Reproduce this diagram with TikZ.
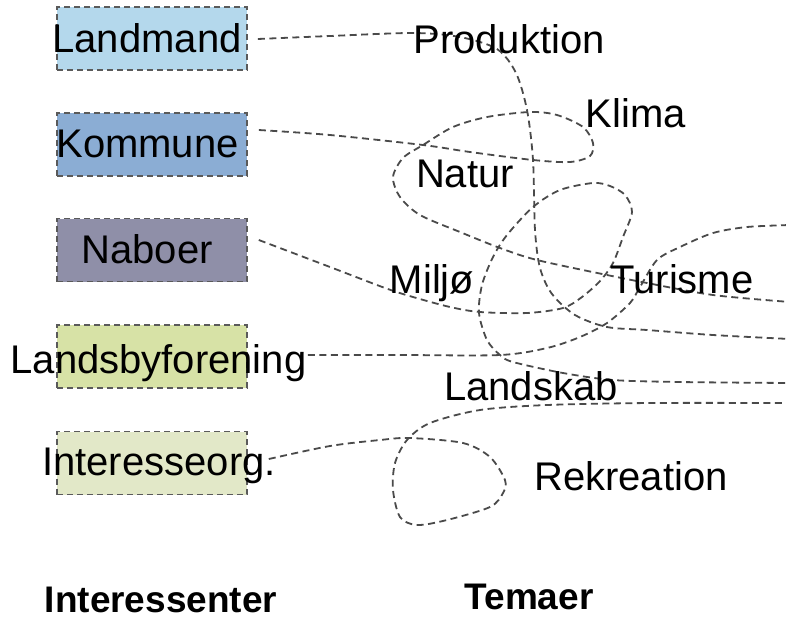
\documentclass[tikz,border=0pt]{standalone}
\usepackage{fontspec}
\setmainfont{Liberation Sans}
\definecolor{linegray}{HTML}{4A4A4A}
\definecolor{boxgray}{HTML}{5A5A5A}
\definecolor{cLandmand}{HTML}{B4D8EC}
\definecolor{cKommune}{HTML}{8BADD4}
\definecolor{cNaboer}{HTML}{8F8FA8}
\definecolor{cLandsby}{HTML}{D7E2A6}
\definecolor{cInteresse}{HTML}{E2E8C8}
\begin{document}
\begin{tikzpicture}[x=1pt,y=-1pt,
  stakebox/.style={draw=boxgray, line width=1.6pt, dash pattern=on 6pt off 4pt,
    minimum width=190pt, minimum height=63pt, inner sep=0pt},
  lbl/.style={font=\fontsize{40}{48}\selectfont, inner sep=0pt, anchor=base},
  heading/.style={font=\fontsize{37}{44}\selectfont\bfseries, inner sep=0pt, anchor=base},
  link/.style={draw=linegray, line width=1.8pt, dash pattern=on 7pt off 4.5pt}]
\useasboundingbox (0,0) rectangle (786,619);

% stakeholder boxes
\node[stakebox, fill=cLandmand]  (landmand)  at (152,38.5)  {};
\node[stakebox, fill=cKommune]   (kommune)   at (152,144.5) {};
\node[stakebox, fill=cNaboer]    (naboer)    at (152,250)   {};
\node[stakebox, fill=cLandsby]   (landsby)   at (152,356.5) {};
\node[stakebox, fill=cInteresse] (interesse) at (152,463)   {};

% free ends at right edge
\coordinate (e1) at (790,339);
\coordinate (e2) at (790,302);
\coordinate (e3) at (790,383);
\coordinate (e4) at (790,225);
\coordinate (e5) at (790,403);

% curves
\draw[link] plot[smooth, tension=0.5] coordinates {
  ([shift={(10,0.5)}]landmand.east) (330,36) (413,33) (460,37) (497,49) (516,73)
  (527,110) (533,160) (535,230) (540,268) (552,294) (575,315) (607,327)
  (647,330) (713,335) (e1)};

\draw[link] plot[smooth, tension=0.5] coordinates {
  ([shift={(11,-14.5)}]kommune.east) (330,135) (423,145) (470,152) (533,160)
  (570,162) (590,156) (593,143) (583,127) (557,115) (530,112) (487,117)
  (453,127) (423,145) (403,158) (393,177) (400,197) (420,215) (460,232)
  (500,248) (537,260) (607,275) (647,283) (713,295) (e2)};

\draw[link] plot[smooth, tension=0.5] coordinates {
  ([shift={(11,-10)}]naboer.east) (330,267) (385,288) (413,297) (450,307)
  (480,312) (527,313) (563,308) (582,297) (600,281) (613,263) (623,237)
  (632,212) (625,195) (610,186) (593,183) (560,190) (533,207) (507,235)
  (493,257) (482,285) (479,313) (487,340) (500,355) (513,362) (563,373)
  (613,380) (680,382) (e3)};

\draw[link] plot[smooth, tension=0.5] coordinates {
  ([shift={(60,-1.5)}]landsby.east) (400,355) (500,355) (547,348) (580,337)
  (607,323) (630,303) (640,287) (657,260) (680,247) (713,233) (747,227) (e4)};

\draw[link] plot[smooth, tension=0.5] coordinates {
  ([shift={(21,-4)}]interesse.east) (330,446) (380,440) (410,438) (463,443)
  (490,457) (505,480) (503,493) (490,507) (447,520) (417,525) (400,517)
  (393,490) (395,463) (407,440) (430,423) (480,410) (547,405) (650,403) (e5)};

% box texts
\node[lbl] (tLandmand)  at (147,52)    {Landmand};
\node[lbl] (tKommune)   at (147.5,157) {Kommune};
\node[lbl] (tNaboer)    at (147,263)   {Naboer};
\node[lbl] (tLandsby)   at (158.5,373) {Landsbyforening};
\node[lbl] (tInteresse) at (159,475)   {Interesseorg.};

% theme texts
\node[lbl] (produktion) at (509,53)  {Produktion};
\node[lbl] (klima)      at (636,127) {Klima};
\node[lbl] (natur)      at (465,187) {Natur};
\node[lbl] (miljo)      at (432,293) {Miljø};
\node[lbl] (turisme)    at (682,293) {Turisme};
\node[lbl] (landskab)   at (531,400) {Landskab};
\node[lbl] (rekreation) at (631,490) {Rekreation};

% headings
\node[heading] (hInteressenter) at (161,612) {Interessenter};
\node[heading] (hTemaer)        at (529,609) {Temaer};
\end{tikzpicture}
\end{document}
